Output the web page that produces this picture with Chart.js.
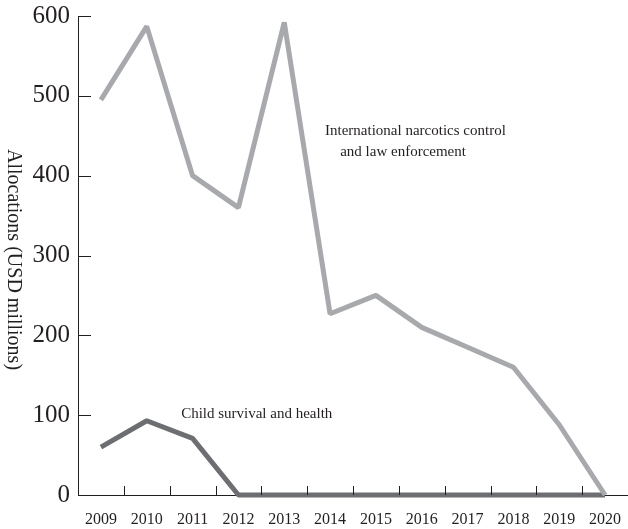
<!DOCTYPE html>
<html>
<head>
<meta charset="utf-8">
<script src="https://cdn.jsdelivr.net/npm/chart.js@4/dist/chart.umd.min.js"></script>
<style>
  html, body { margin: 0; padding: 0; background: #fff; }
  #wrap { width: 628px; height: 529px; position: relative; }
</style>
</head>
<body>
<div id="wrap"><canvas id="chart"></canvas></div>
<script>
/* ── Allocations by year — two programme lines ── */

const YEARS = ['2009', '2010', '2011', '2012', '2013', '2014', '2015', '2016', '2017', '2018', '2019', '2020'];
const NARCOTICS = [495, 587, 400, 360, 592, 227, 250, 210, 185, 160, 88, 0];
const CHILD_HEALTH = [60, 93, 71, 0, 0, 0, 0, 0, 0, 0, 0, 0];
const Y_TICKS = [0, 100, 200, 300, 400, 500, 600];

// labels placed in data units: x = category index, y = value
const NOTES = [
  { text: 'International narcotics control', x: 4.89, y: 456 },
  { text: 'and law enforcement', x: 5.22, y: 430 },
  { text: 'Child survival and health', x: 1.75, y: 102 },
];

const SERIF = "'Liberation Serif', 'DejaVu Serif', serif";
const INK = '#231f20';

Chart.defaults.font.family = SERIF;
Chart.defaults.color = INK;

// inward tick marks, rotated axis title, line labels
const decorations = {
  id: 'decorations',
  afterDraw(chart) {
    const { ctx, chartArea, scales: { x, y } } = chart;
    ctx.save();
    ctx.strokeStyle = INK;
    ctx.lineWidth = 1;
    ctx.beginPath();
    for (let i = 0; i < YEARS.length - 1; i++) {
      const px = Math.round((x.getPixelForValue(i) + x.getPixelForValue(i + 1)) / 2) + 0.5;
      ctx.moveTo(px, chartArea.bottom);
      ctx.lineTo(px, chartArea.bottom - 9);
    }
    Y_TICKS.slice(1).forEach(v => {
      const py = Math.round(y.getPixelForValue(v)) + 0.5;
      ctx.moveTo(chartArea.left, py);
      ctx.lineTo(chartArea.left + 13, py);
    });
    ctx.stroke();

    ctx.fillStyle = INK;
    ctx.font = `20px ${SERIF}`;
    ctx.textAlign = 'center';
    ctx.textBaseline = 'middle';
    ctx.translate(13, (chartArea.top + chartArea.bottom) / 2 + 4);
    ctx.rotate(Math.PI / 2);
    ctx.fillText('Allocations (USD millions)', 0, 0);
    ctx.restore();

    ctx.save();
    ctx.fillStyle = INK;
    ctx.font = `15px ${SERIF}`;
    ctx.textAlign = 'left';
    ctx.textBaseline = 'middle';
    NOTES.forEach(n => {
      ctx.fillText(n.text, x.getPixelForValue(n.x), y.getPixelForValue(n.y));
    });
    ctx.restore();
  },
};

new Chart(document.getElementById('chart'), {
  type: 'line',
  data: {
    labels: YEARS,
    datasets: [
      {
        data: NARCOTICS,
        borderColor: '#a7a9ac',
        borderWidth: 5,
        borderJoinStyle: 'bevel',
        pointRadius: 0,
        tension: 0,
        clip: false,
      },
      {
        data: CHILD_HEALTH,
        borderColor: '#6d6e71',
        borderWidth: 5,
        borderJoinStyle: 'bevel',
        pointRadius: 0,
        tension: 0,
        clip: false,
      },
    ],
  },
  options: {
    responsive: true,
    maintainAspectRatio: false,
    animation: false,
    layout: { padding: { top: 16, right: 0, bottom: 0, left: 0 } },
    plugins: { legend: { display: false }, tooltip: { enabled: false } },
    scales: {
      x: {
        type: 'category',
        offset: true,
        grid: { display: false, drawTicks: false, offset: true },
        border: { display: true, color: INK, width: 1 },
        ticks: { font: { size: 16 }, padding: 15, maxRotation: 0, autoSkip: false },
        afterFit: s => { s.height = 34; s.paddingLeft = 0; s.paddingRight = 0; },
      },
      y: {
        min: 0,
        max: 600,
        grid: { display: false, drawTicks: false },
        border: { display: true, color: INK, width: 1 },
        ticks: { stepSize: 100, font: { size: 25 }, padding: 8 },
        afterFit: s => { s.width = 78; s.paddingTop = 0; s.paddingBottom = 0; },
      },
    },
  },
  plugins: [decorations],
});
</script>
</body>
</html>
